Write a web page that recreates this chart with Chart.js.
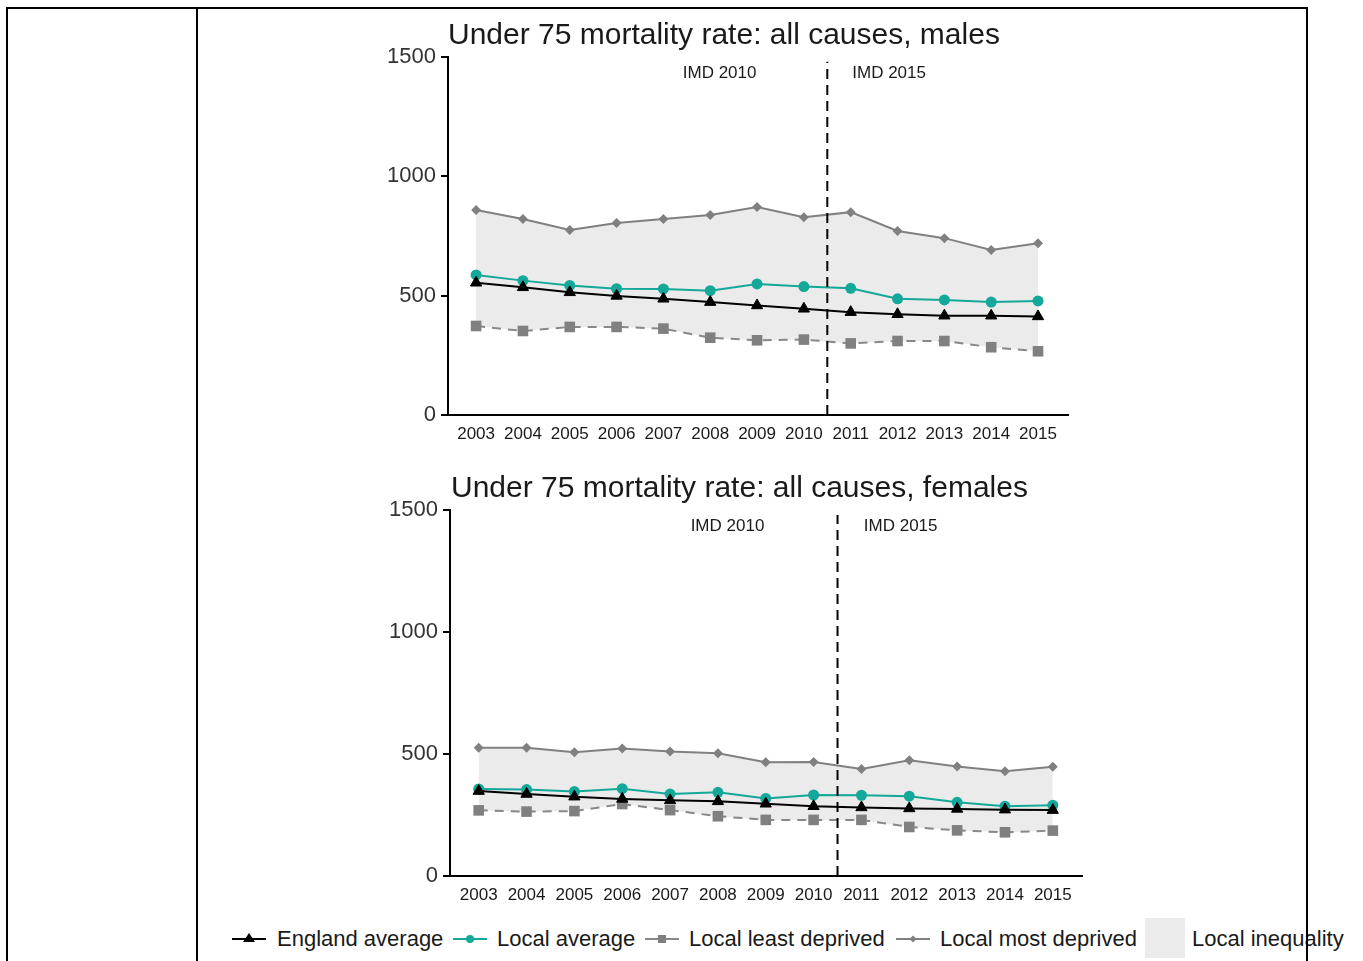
<!DOCTYPE html>
<html>
<head>
<meta charset="utf-8">
<script src="https://cdn.jsdelivr.net/npm/chart.js@4.4.1/dist/chart.umd.min.js"></script>
<style>
body { margin: 0; background: #fff; font-family: 'Liberation Sans', Arial, sans-serif; }
#pagina { position: relative; width: 1363px; height: 961px; overflow: hidden; }
.linea { position: absolute; background: #000; z-index: 5; }
.lienzo { position: absolute; }
.simbolo { position: absolute; top: 930px; }
.texto { position: absolute; top: 928px; font-size: 22px; line-height: 22px; color: #1a1a1a; white-space: nowrap; }
#cajaGris { position: absolute; left: 1145px; top: 918px; width: 40px; height: 40px; background: #ebebeb; }
</style>
</head>
<body>
<div id="pagina">
  <!-- bordes de la tabla -->
  <div class="linea" style="left:6px; top:7px; width:1302px; height:2px"></div>
  <div class="linea" style="left:6px; top:7px; width:2px; height:954px"></div>
  <div class="linea" style="left:196px; top:7px; width:2px; height:954px"></div>
  <div class="linea" style="left:1306px; top:7px; width:2px; height:954px"></div>

  <canvas id="graficaHombres" class="lienzo" width="1100" height="445" style="left:200px; top:10px"></canvas>
  <canvas id="graficaMujeres" class="lienzo" width="1100" height="450" style="left:200px; top:460px"></canvas>

  <!-- leyenda -->
  <svg class="simbolo" style="left:230px" width="40" height="18">
    <line x1="2" y1="9" x2="36" y2="9" stroke="#000" stroke-width="2"/>
    <polygon points="19,3 25,12 13,12" fill="#000"/>
  </svg>
  <div class="texto" style="left:277px">England average</div>

  <svg class="simbolo" style="left:451px" width="40" height="18">
    <line x1="2" y1="9" x2="36" y2="9" stroke="#13a899" stroke-width="2"/>
    <circle cx="19" cy="9" r="4" fill="#13a899"/>
  </svg>
  <div class="texto" style="left:497px">Local average</div>

  <svg class="simbolo" style="left:643px" width="40" height="18">
    <line x1="2" y1="9" x2="36" y2="9" stroke="#888" stroke-width="2"/>
    <rect x="15" y="5" width="8" height="8" fill="#808080"/>
  </svg>
  <div class="texto" style="left:689px">Local least deprived</div>

  <svg class="simbolo" style="left:894px" width="40" height="18">
    <line x1="2" y1="9" x2="36" y2="9" stroke="#808080" stroke-width="2"/>
    <polygon points="19,5.5 22.5,9 19,12.5 15.5,9" fill="#808080"/>
  </svg>
  <div class="texto" style="left:940px">Local most deprived</div>

  <div id="cajaGris"></div>
  <div class="texto" style="left:1192px">Local inequality</div>
</div>

<script>
// años del eje x
const anios = [2003, 2004, 2005, 2006, 2007, 2008, 2009, 2010, 2011, 2012, 2013, 2014, 2015]
// marcas del eje y
const marcasY = [0, 500, 1000, 1500]

// hombres
const inglaterraH = [554, 535, 514, 499, 487, 473, 459, 445, 431, 422, 416, 416, 413]
const localH = [587, 563, 543, 529, 528, 521, 549, 538, 531, 487, 482, 473, 478]
const menosH = [373, 352, 369, 369, 362, 324, 313, 316, 300, 310, 310, 284, 267]
const masH = [859, 821, 775, 804, 821, 838, 871, 829, 850, 771, 741, 691, 720]

// mujeres
const inglaterraM = [348, 336, 325, 316, 310, 306, 296, 286, 281, 277, 275, 272, 270]
const localM = [357, 354, 346, 358, 336, 343, 318, 332, 331, 327, 302, 286, 290]
const menosM = [269, 264, 266, 295, 270, 245, 230, 230, 230, 201, 187, 179, 186]
const masM = [526, 526, 507, 523, 510, 503, 466, 467, 439, 474, 449, 429, 448]

// cambio de IMD 2010 a IMD 2015
const corteIMD = 2010.5
const etiquetasIMD = ["IMD 2010", "IMD 2015"]
const posicionIMD = [2008.2, 2011.82]
const alturaIMD = 1433

const fuente = "'Liberation Sans', Arial, sans-serif"
Chart.defaults.font.family = fuente
Chart.defaults.color = "#1a1a1a"

// escribe el titulo y las etiquetas IMD
const textos = {
    id: "textos",
    afterDraw(chart, args, opciones) {
        const ctx = chart.ctx
        const area = chart.chartArea
        ctx.save()
        ctx.fillStyle = "#1a1a1a"
        ctx.font = "30px " + fuente
        ctx.textAlign = "left"
        ctx.textBaseline = "alphabetic"
        ctx.fillText(opciones.titulo, area.left + opciones.dx, area.top - 13)

        ctx.font = "17px " + fuente
        ctx.textAlign = "center"
        ctx.textBaseline = "middle"
        etiquetasIMD.forEach((t, i) => {
            ctx.fillText(t, chart.scales.x.getPixelForValue(posicionIMD[i]), chart.scales.y.getPixelForValue(alturaIMD))
        })
        ctx.restore()
    }
}

function puntos(valores) {
    return valores.map((v, i) => ({ x: anios[i], y: v }))
}

function crearGrafica(id, titulo, inglaterra, local, menos, mas, caja) {
    const grafica = document.getElementById(id).getContext("2d")
    return new Chart(grafica, {
        type: "line",
        data: {
            datasets: [
                {
                    label: "IMD",
                    data: [{ x: corteIMD, y: 0 }, { x: corteIMD, y: 1480 }],
                    borderColor: "#000",
                    borderWidth: 2,
                    borderDash: [10, 6],
                    pointRadius: 0
                },
                {
                    label: "England average",
                    data: puntos(inglaterra),
                    borderColor: "#000",
                    backgroundColor: "#000",
                    borderWidth: 2,
                    pointStyle: "triangle",
                    pointRadius: 6.5,
                    pointBorderWidth: 1
                },
                {
                    label: "Local average",
                    data: puntos(local),
                    borderColor: "#13a899",
                    backgroundColor: "#13a899",
                    borderWidth: 2,
                    pointStyle: "circle",
                    pointRadius: 5.5,
                    pointBorderWidth: 0
                },
                {
                    label: "Local least deprived",
                    data: puntos(menos),
                    borderColor: "#888",
                    backgroundColor: "#808080",
                    pointBorderColor: "#808080",
                    borderWidth: 2,
                    borderDash: [9, 7],
                    pointStyle: "rect",
                    pointRadius: 7.5,
                    pointBorderWidth: 0
                },
                {
                    label: "Local most deprived",
                    data: puntos(mas),
                    borderColor: "#808080",
                    backgroundColor: "#ebebeb",
                    pointBackgroundColor: "#808080",
                    pointBorderColor: "#808080",
                    borderWidth: 2,
                    pointStyle: "rectRot",
                    pointRadius: 5,
                    pointBorderWidth: 0,
                    fill: 3
                }
            ]
        },
        options: {
            responsive: false,
            animation: false,
            layout: {
                padding: { top: caja.arriba, right: caja.derecha, left: 0, bottom: 0 }
            },
            elements: { line: { tension: 0 } },
            plugins: {
                legend: { display: false },
                title: { display: false },
                tooltip: { enabled: false },
                filler: { drawTime: "beforeDatasetsDraw" },
                textos: { titulo: titulo, dx: caja.dx }
            },
            scales: {
                x: {
                    type: "linear",
                    min: 2002.4,
                    max: caja.maxX,
                    afterFit: s => { s.height = caja.altoX },
                    afterBuildTicks: s => { s.ticks = anios.map(a => ({ value: a })) },
                    grid: { display: false, drawTicks: false },
                    border: { display: true, color: "#000", width: 2 },
                    ticks: {
                        autoSkip: false,
                        maxRotation: 0,
                        padding: 9,
                        font: { size: 17 },
                        callback: v => String(v)
                    }
                },
                y: {
                    min: 0,
                    max: 1500,
                    afterFit: s => { s.width = caja.anchoY },
                    afterBuildTicks: s => { s.ticks = marcasY.map(m => ({ value: m })) },
                    grid: { display: true, drawOnChartArea: false, drawTicks: true, tickLength: 7, color: "#000", lineWidth: 2 },
                    border: { display: true, color: "#000", width: 2 },
                    ticks: { padding: 5, font: { size: 22 }, color: "#333", callback: v => String(v) }
                }
            }
        },
        plugins: [textos]
    })
}

crearGrafica("graficaHombres", "Under 75 mortality rate: all causes, males",
    inglaterraH, localH, menosH, masH,
    { arriba: 47, derecha: 232, anchoY: 248, altoX: 40, maxX: 2015.64, dx: 0 })

crearGrafica("graficaMujeres", "Under 75 mortality rate: all causes, females",
    inglaterraM, localM, menosM, masM,
    { arriba: 50, derecha: 218, anchoY: 250, altoX: 34, maxX: 2015.61, dx: 1 })
</script>
</body>
</html>
